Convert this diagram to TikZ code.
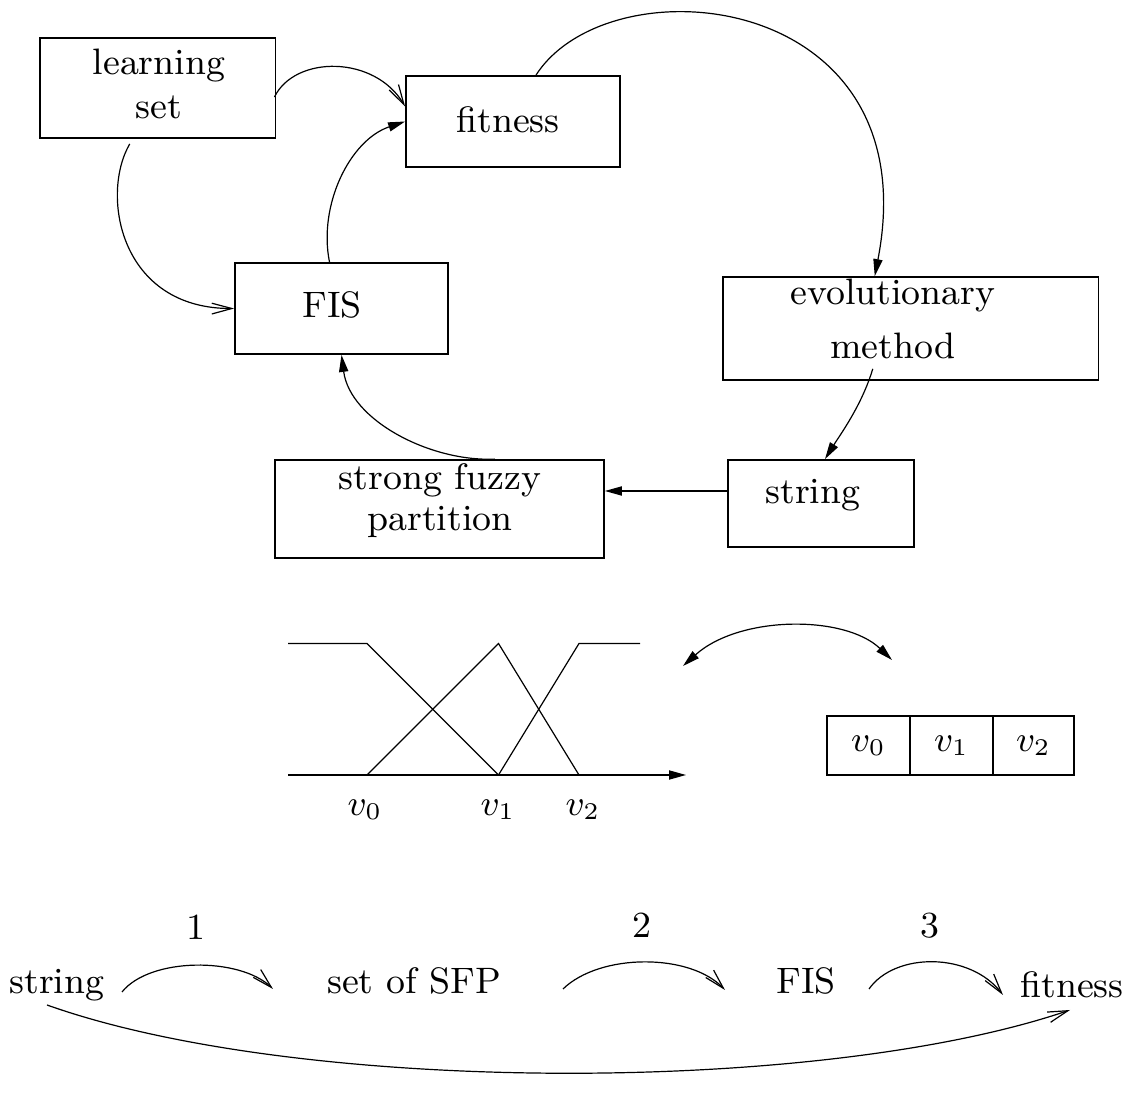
\documentclass[tikz,border=0pt]{standalone}
\usetikzlibrary{arrows.meta,calc}
\begin{document}
\begin{tikzpicture}[x=0.25pt,y=-0.25pt,
  box/.style={draw, line width=0.45pt, inner sep=0pt},
  lbl/.style={font=\fontsize{9.2}{11}\selectfont, inner sep=0pt, anchor=base, align=center},
  con/.style={line width=0.3pt},
  fa/.style={-{Triangle[length=4.25pt,width=2.3pt]}},
  oa/.style={-{Straight Barb[length=5pt,width=2.7pt]}},
  cell/.style={draw, line width=0.4pt, inner sep=0pt, minimum height=14.75pt, font=\fontsize{9.2}{11}\selectfont}]
\useasboundingbox (0,0) rectangle (1128,1102);
\fill[white] (0,0) rectangle (1128,1102);

% --- boxes
\node[box, minimum width=58.9pt, minimum height=25pt] (learn) at (157.75,88) {};
\node[box, minimum width=53.5pt, minimum height=22.75pt] (fit) at (513,121.5) {};
\node[box, minimum width=53.25pt, minimum height=22.75pt] (fis) at (341.5,308.5) {};
\node[box, minimum width=93.9pt, minimum height=25.75pt] (evol) at (910.75,328.5) {};
\node[box, minimum width=46.5pt, minimum height=21.75pt] (str) at (821,503.5) {};
\node[box, minimum width=82.25pt, minimum height=24.5pt] (sfp) at (439.5,509) {};

% --- box texts (anchor base = last line)
\node[lbl, font=\fontsize{9.2}{10.9}\selectfont] (learnT) at (159,118.5) {learning\\set};
\node[lbl] (fitT) at (508,133) {fitness};
\node[lbl] (fisT) at (332,318) {FIS};
\node[lbl, font=\fontsize{9.2}{13.5}\selectfont] (evolT) at (893,359) {evolutionary\\method};
\node[lbl] (strT) at (813,504) {string};
\node[lbl, font=\fontsize{9.2}{10.25}\selectfont] (sfpT) at (440,531) {strong fuzzy\\partition};

% --- connectors
\draw[con,oa] ($(learn.east)+(-2,9)$) .. controls (295,55) and (375,55) .. ($(fit.west)+(0,-15)$);
\draw[con,oa] ($(learn.south)+(-28,5)$) .. controls (100,195) and (120,309) .. (fis.west);
\draw[con,fa] ($(fis.north)+(-12,0)$) .. controls (318,205) and (350,140) .. (fit.west);
\draw[con,fa] ($(fit.north)+(23,0)$) .. controls (610,-40) and (930,-10) .. ($(evol.north)+(-36,0)$);
\draw[con,fa] ($(evol.south)+(-38,-12)$) .. controls (862,405) and (840,435) .. ($(str.north)+(4,0)$);
\coordinate (sa) at ($(str.west)+(0,-12.5)$);
\draw[con,fa] (sa) -- (sa -| sfp.east);
\draw[con,fa] ($(sfp.north)+(55.5,0)$) .. controls (430,462) and (350,420) .. (fis.south);

% --- fuzzy partition plot
\draw[con,fa] (288,775) -- (686,775);
\draw[con] (288,643.5) -- (367,643.5) -- (498.5,775);
\draw[con] (367,775) -- (498.5,643.5) -- (579,775);
\draw[con] (498.5,775) -- (579,643.5) -- (640,643.5);
\node[lbl] (pv0) at (365,816) {$v_0$};
\node[lbl] (pv1) at (498,816) {$v_1$};
\node[lbl] (pv2) at (583,816) {$v_2$};

% --- double arrow
\coordinate (dl) at (683,666);
\coordinate (dr) at (892,660);
\draw[con,{Triangle[length=4.25pt,width=2.3pt]}-{Triangle[length=4.25pt,width=2.3pt]}] (dl) .. controls (740,615) and (845,615) .. (dr);

% --- string cells
\node[cell, minimum width=20.75pt] (c0) at (868.5,745.5) {$v_0$};
\node[cell, minimum width=20.75pt] (c1) at (951.5,745.5) {$v_1$};
\node[cell, minimum width=20.25pt] (c2) at (1033.5,745.5) {$v_2$};

% --- bottom chain
\node[lbl] (bs) at (57,994) {string};
\node[lbl] (bset) at (414,994) {set of SFP};
\node[lbl] (bfis) at (806,994) {FIS};
\node[lbl] (bfit) at (1072,998) {fitness};
\node[lbl] (n1) at (196,940) {1};
\node[lbl] (n2) at (642,938) {2};
\node[lbl] (n3) at (930,938) {3};
\coordinate (a1s) at (122,992); \coordinate (a1e) at (273,989);
\coordinate (a2s) at (563,989); \coordinate (a2e) at (725,990);
\coordinate (a3s) at (869,989); \coordinate (a3e) at (1003,995);
\coordinate (bgs) at (47,1005); \coordinate (bge) at (1070,1010);
\draw[con,oa] (a1s) .. controls (150,957) and (240,957) .. (a1e);
\draw[con,oa] (a2s) .. controls (600,953) and (690,953) .. (a2e);
\draw[con,oa] (a3s) .. controls (895,952) and (970,952) .. (a3e);
\draw[con,oa] (bgs) .. controls (300,1095) and (820,1095) .. (bge);
\end{tikzpicture}
\end{document}
